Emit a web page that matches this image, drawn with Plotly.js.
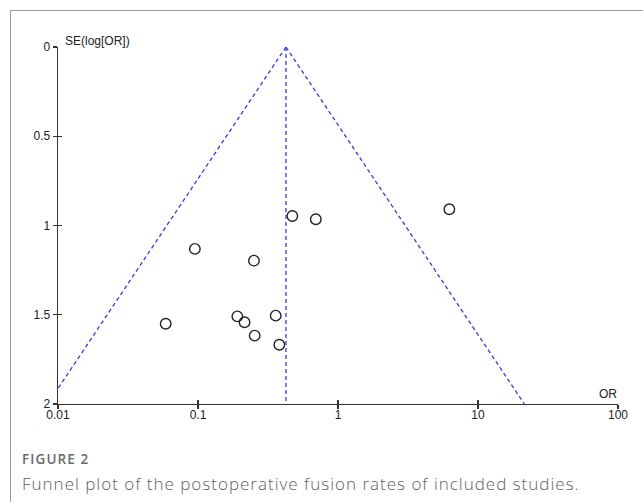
<!DOCTYPE html>
<html>
<head>
<meta charset="utf-8">
<script src="https://cdn.plot.ly/plotly-3.0.1.min.js"></script>
<style>
  html, body { margin: 0; padding: 0; background: #fff; }
  #frame { position: absolute; left: 10px; top: 10px; width: 800px; height: 600px;
           border-top: 1.5px solid #9a9a9a; border-left: 1.5px solid #9a9a9a; }
  #chart { position: absolute; left: 0; top: 0; width: 643px; height: 502px; }
  g.annotation[data-index="2"] text { letter-spacing: 1.1px; }
  g.annotation[data-index="3"] text { letter-spacing: 1px; }
</style>
</head>
<body>
<div id="frame"></div>
<div id="chart"></div>
<script>
// Study estimates
const studyOR = [0.095, 0.251, 0.472, 0.694, 0.0588, 0.191, 0.215, 0.254, 0.359, 0.381, 6.24];
const studySE = [1.131, 1.197, 0.947, 0.965, 1.550, 1.509, 1.542, 1.617, 1.505, 1.668, 0.909];
// Pooled estimate and SE limit of the funnel
const pooledOR = 0.425;
const seLimits = [0, 2];
// Axis ticks
const xTickVals = [0.01, 0.1, 1, 10, 100];
const xTickText = ['0.01', '0.1', '1', '10', '100'];
const yTickVals = [0, 0.5, 1, 1.5, 2];
const yTickText = ['0', '0.5', '1', '1.5', '2'];

const z = 1.96;
const funnelLeftX = seLimits.map(s => pooledOR * Math.exp(-z * s));
const funnelRightX = seLimits.map(s => pooledOR * Math.exp(z * s));

const blue = '#3a3ad8';
const dashed = { color: blue, width: 1.3, dash: '4px,3px' };

const traces = [
  { x: funnelLeftX, y: seLimits, mode: 'lines', line: dashed, xaxis: 'x2', yaxis: 'y2', hoverinfo: 'skip' },
  { x: funnelRightX, y: seLimits, mode: 'lines', line: dashed, xaxis: 'x2', yaxis: 'y2', hoverinfo: 'skip' },
  { x: [pooledOR, pooledOR], y: seLimits, mode: 'lines', line: dashed, xaxis: 'x2', yaxis: 'y2', hoverinfo: 'skip' },
  { x: studyOR, y: studySE, mode: 'markers', xaxis: 'x', yaxis: 'y',
    marker: { symbol: 'circle-open', size: 10.5, color: '#222', line: { width: 1.4, color: '#222' } } }
];

const axisFont = { family: 'Liberation Sans, Arial, sans-serif', size: 12, color: '#222' };
const lineCol = '#333';

const layout = {
  width: 643, height: 502,
  margin: { l: 58, r: 25, t: 47, b: 98, pad: 0 },
  paper_bgcolor: 'rgba(0,0,0,0)', plot_bgcolor: 'rgba(0,0,0,0)',
  showlegend: false,
  xaxis: {
    type: 'log', range: [-2, 2], tickvals: xTickVals, ticktext: xTickText,
    showgrid: false, zeroline: false, showline: true, linecolor: lineCol, linewidth: 1.3,
    ticks: 'outside', ticklen: 4, tickwidth: 1.1, tickcolor: lineCol, tickfont: axisFont,
    ticklabelstandoff: -5, fixedrange: true
  },
  yaxis: {
    range: [2, 0], tickvals: yTickVals, ticktext: yTickText,
    showgrid: false, zeroline: false, showline: true, linecolor: lineCol, linewidth: 1.3,
    ticks: 'outside', ticklen: 4, tickwidth: 1.1, tickcolor: lineCol, tickfont: axisFont,
    fixedrange: true
  },
  xaxis2: {
    type: 'log', range: [-2, 2], tickvals: xTickVals, overlaying: 'x', anchor: 'y', side: 'bottom',
    showticklabels: false, showgrid: false, zeroline: false, showline: false,
    ticks: 'inside', ticklen: 4, tickwidth: 1.1, tickcolor: lineCol, fixedrange: true
  },
  yaxis2: {
    range: [2, 0], tickvals: yTickVals, overlaying: 'y', anchor: 'x', side: 'left',
    showticklabels: false, showgrid: false, zeroline: false, showline: false,
    ticks: 'inside', ticklen: 4, tickwidth: 1.1, tickcolor: lineCol, fixedrange: true
  },
  annotations: [
    { text: 'SE(log[OR])', xref: 'paper', yref: 'paper', x: 0.009, y: 1.017,
      xanchor: 'left', yanchor: 'middle', showarrow: false, font: axisFont },
    { text: 'OR', xref: 'paper', yref: 'paper', x: 0.982, y: 0.027,
      xanchor: 'center', yanchor: 'middle', showarrow: false, font: axisFont },
    { text: 'FIGURE 2', xref: 'paper', yref: 'paper', x: -0.067, y: -0.153,
      xanchor: 'left', yanchor: 'middle', align: 'left', showarrow: false,
      font: { family: 'Open Sans, sans-serif', size: 13.5, color: '#6a6a6a', weight: 600 } },
    { text: 'Funnel plot of the postoperative fusion rates of included studies.', xref: 'paper', yref: 'paper',
      x: -0.067, y: -0.222, xanchor: 'left', yanchor: 'middle', align: 'left', showarrow: false,
      font: { family: 'Open Sans, sans-serif', size: 17, color: '#5e5e5e', weight: 300 } }
  ]
};

Plotly.newPlot('chart', traces, layout, { displayModeBar: false, staticPlot: true });
</script>
</body>
</html>
